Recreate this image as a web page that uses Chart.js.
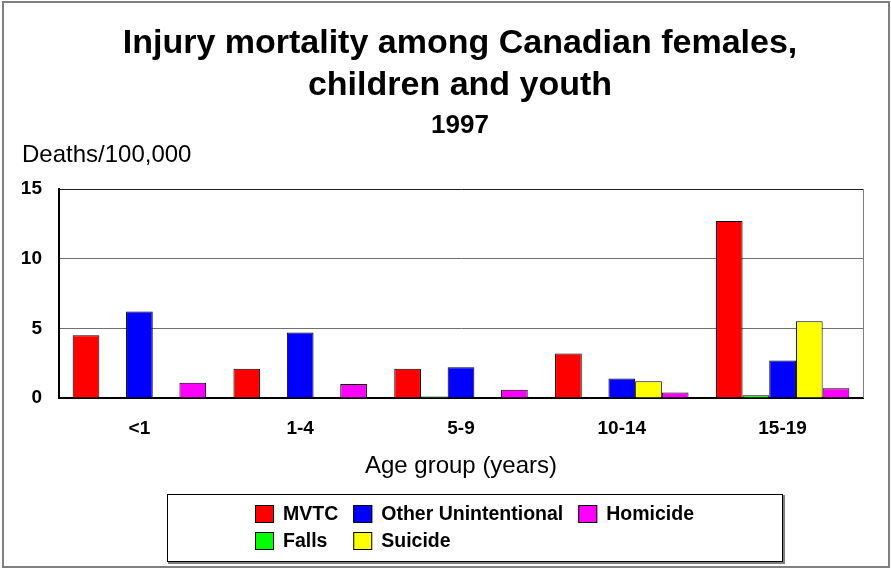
<!DOCTYPE html>
<html>
<head>
<meta charset="utf-8">
<script src="https://cdn.jsdelivr.net/npm/chart.js@4/dist/chart.umd.min.js"></script>
<style>
  html, body { margin: 0; padding: 0; background: #fff; }
  #wrap { position: relative; width: 891px; height: 569px; }
</style>
</head>
<body>
<div id="wrap"><canvas id="c" width="891" height="569"></canvas></div>
<script>
const categories = ["<1", "1-4", "5-9", "10-14", "15-19"];
const seriesNames = ["MVTC", "Falls", "Other Unintentional", "Suicide", "Homicide"];
const mvtc = [4.5, 2.1, 2.1, 3.2, 12.7];
const falls = [0, 0, 0.1, 0, 0.2];
const otherUnintentional = [6.2, 4.7, 2.2, 1.4, 2.7];
const suicide = [0, 0, 0, 1.2, 5.5];
const homicide = [1.1, 1.0, 0.6, 0.4, 0.7];
const yTicks = [0, 5, 10, 15];
const titleLines = ["Injury mortality among Canadian females,", "children and youth"];
const subtitle = "1997";
const yTitle = "Deaths/100,000";
const xTitle = "Age group (years)";

const colors = ["#FF0000", "#00FF00", "#0000FF", "#FFFF00", "#FF00FF"];
const seriesValues = [mvtc, falls, otherUnintentional, suicide, homicide];
const FONT = "'Liberation Sans', Arial, Helvetica, sans-serif";

const decor = {
  id: 'decor',
  beforeDatasetsDraw(chart) {
    const { ctx, chartArea: a } = chart;
    ctx.save();
    ctx.strokeStyle = '#808080';
    ctx.lineWidth = 1;
    ctx.beginPath();
    ctx.moveTo(Math.round(a.right) + 0.5, a.top);
    ctx.lineTo(Math.round(a.right) + 0.5, a.bottom);
    ctx.stroke();
    ctx.restore();
  },
  afterDraw(chart) {
    const { ctx, chartArea: a } = chart;
    ctx.save();
    // outer frame
    ctx.strokeStyle = '#808080';
    ctx.lineWidth = 2;
    ctx.strokeRect(3, 2, 886, 565);
    // title
    ctx.fillStyle = '#000';
    ctx.textAlign = 'center';
    ctx.textBaseline = 'alphabetic';
    ctx.font = 'bold 34px ' + FONT;
    ctx.fillText(titleLines[0], 460, 53);
    ctx.fillText(titleLines[1], 460, 95);
    ctx.font = 'bold 26px ' + FONT;
    ctx.fillText(subtitle, 460, 133);
    // y title
    ctx.textAlign = 'left';
    ctx.font = '24px ' + FONT;
    ctx.fillText(yTitle, 22, 162);
    // x title
    ctx.textAlign = 'center';
    ctx.fillText(xTitle, (a.left + a.right) / 2, 473);
    // legend box
    ctx.fillStyle = '#808080';
    ctx.fillRect(168, 495, 617, 69);
    ctx.fillStyle = '#fff';
    ctx.fillRect(167, 494, 616, 68);
    ctx.strokeStyle = '#000';
    ctx.lineWidth = 1;
    ctx.strokeRect(167.5, 494.5, 615, 67);
    // legend items: column-major, 2 rows
    ctx.font = 'bold 19.5px ' + FONT;
    ctx.textAlign = 'left';
    ctx.textBaseline = 'middle';
    const ds = chart.data.datasets;
    const rows = 2;
    const rowY = [505, 532];
    let x = 255;
    for (let c = 0; c * rows < ds.length; c++) {
      let maxW = 0;
      for (let r = 0; r < rows; r++) {
        const i = c * rows + r;
        if (i >= ds.length) break;
        const y = rowY[r];
        ctx.fillStyle = ds[i].backgroundColor;
        ctx.fillRect(x, y, 19, 18);
        ctx.strokeStyle = '#000';
        ctx.strokeRect(x + 0.5, y + 0.5, 18, 17);
        ctx.fillStyle = '#000';
        ctx.fillText(ds[i].label, x + 28, y + 10);
        maxW = Math.max(maxW, ctx.measureText(ds[i].label).width);
      }
      x += 28 + maxW + 15;
    }
    ctx.restore();
  }
};

new Chart(document.getElementById('c'), {
  type: 'bar',
  data: {
    labels: categories,
    datasets: seriesNames.map((n, i) => ({
      label: n,
      data: seriesValues[i],
      backgroundColor: colors[i],
      borderColor: '#000',
      borderWidth: 1,
      categoryPercentage: 0.83,
      barPercentage: 1.0
    }))
  },
  options: {
    responsive: false,
    animation: false,
    layout: { padding: { left: 0, right: 28, top: 189, bottom: 0 } },
    plugins: { legend: { display: false }, title: { display: false }, tooltip: { enabled: false } },
    scales: {
      x: {
        grid: { display: false, drawTicks: false },
        border: { color: '#000', width: 2 },
        ticks: { color: '#000', font: { family: FONT, size: 19, weight: 'bold' }, padding: 19, maxRotation: 0 },
        afterFit: s => { s.height = 171; }
      },
      y: {
        min: 0, max: 15,
        afterBuildTicks: s => { s.ticks = yTicks.map(v => ({ value: v })); },
        grid: {
          drawTicks: false,
          color: c => (c.tick && c.tick.value === 15) ? '#202020' : '#707070',
          lineWidth: 1
        },
        border: { color: '#000', width: 2 },
        ticks: { color: '#000', font: { family: FONT, size: 19, weight: 'bold' }, padding: 17 },
        afterFit: s => { s.width = 59; }
      }
    }
  },
  plugins: [decor]
});
</script>
</body>
</html>
